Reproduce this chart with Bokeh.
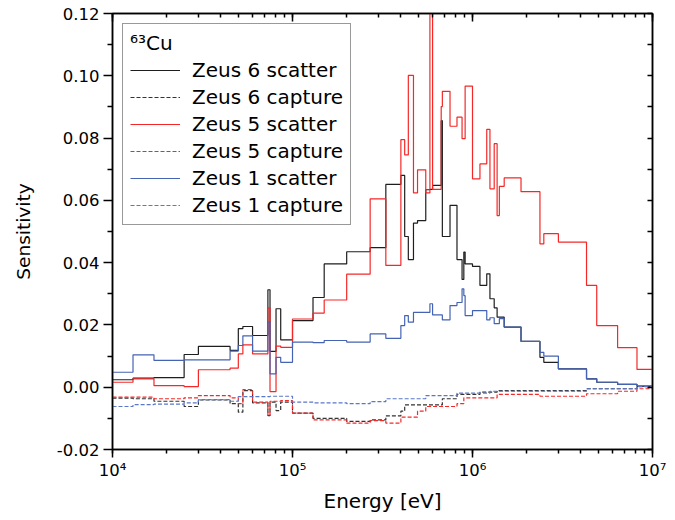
from bokeh.plotting import figure
from bokeh.models import (Range1d, LinearAxis, LogAxis, FixedTicker, LogTicker,
                          PrintfTickFormatter, CustomJSTickFormatter, Legend, LegendItem)
from bokeh.embed import file_html
from bokeh.resources import INLINE

# ---------------- data (bin edges in eV, sensitivities per bin) ----------------
edges = [1e4, 1.3e4, 1.7e4, 2.5e4, 3e4, 4.5e4, 5e4, 5.3e4, 6e4, 7.3e4,
         7.5e4, 8.1e4, 8.6e4, 1e5, 1.3e5, 1.5e5, 2e5, 2.7e5, 3.3e5, 4e5,
         4.2e5, 4.4e5, 4.7e5, 4.95e5, 5.5e5, 5.8e5, 6.0e5, 6.7e5, 6.8e5, 7.5e5,
         8.2e5, 8.75e5, 8.95e5, 9.1e5, 1.0e6, 1.1e6, 1.2e6, 1.25e6, 1.32e6, 1.37e6,
         1.41e6, 1.5e6, 1.86e6, 2.37e6, 2.49e6, 3.0e6, 4.3e6, 4.9e6, 6.4e6, 8.2e6,
         1e7]

zeus6_scatter = [0.0024, 0.0029, 0.0031, 0.0105, 0.0131, 0.0118, 0.0188, 0.0195, 0.0166, 0.0313,
                 0.0115, 0.0252, 0.0152, 0.0214, 0.0288, 0.0396, 0.0435, 0.0448, 0.0651, 0.0680,
                 0.0484, 0.0410, 0.0527, 0.0535, 0.0634, 0.0635, 0.0648, 0.0856, 0.0484, 0.0584,
                 0.0410, 0.0346, 0.0434, 0.0396, 0.0388, 0.0327, 0.0364, 0.0284, 0.0255, 0.0225,
                 0.0225, 0.0193, 0.0147, 0.0096, 0.0080, 0.0059, 0.0027, 0.0016, 0.0009, 0.0003]

zeus6_capture = [-0.0035, -0.0037, -0.0045, -0.0062, -0.0041, -0.0053, -0.0080, -0.0011, -0.0050, -0.0091,
                 -0.0048, -0.0075, -0.0048, -0.0083, -0.0100, -0.0100, -0.0110, -0.0105, -0.0092, -0.0077,
                 -0.0057, -0.0057, -0.0057, -0.0057, -0.0057, -0.0057, -0.0057, -0.0057, -0.0037, -0.0037,
                 -0.0023, -0.0023, -0.0023, -0.0023, -0.0023, -0.0016, -0.0016, -0.0016, -0.0016, -0.0011,
                 -0.0011, -0.0011, -0.0011, -0.0011, -0.0011, -0.0011, -0.0005, -0.0005, -0.0005, 0.0002]

zeus5_scatter = [0.0016, 0.0027, 0.0005, 0.0002, 0.0056, 0.0061, 0.0107, 0.0136, 0.0107, 0.0255,
                 -0.0014, 0.0132, 0.0128, 0.0219, 0.0238, 0.0280, 0.0363, 0.0605, 0.0391, 0.0795,
                 0.0746, 0.1001, 0.0624, 0.0698, 0.0624, 0.1250, 0.0635, 0.0901, 0.0950, 0.0838,
                 0.0867, 0.0798, 0.0798, 0.0967, 0.0669, 0.0717, 0.0828, 0.0637, 0.0782, 0.0551,
                 0.0645, 0.0672, 0.0628, 0.0460, 0.0493, 0.0466, 0.0327, 0.0198, 0.0127, 0.0057]

zeus5_capture = [-0.0032, -0.0032, -0.0037, -0.0034, -0.0027, -0.0034, -0.0053, -0.0008, -0.0048, -0.0091,
                 -0.0045, -0.0045, -0.0043, -0.0083, -0.0105, -0.0105, -0.0115, -0.0107, -0.0115, -0.0096,
                 -0.0096, -0.0096, -0.0096, -0.0077, -0.0062, -0.0062, -0.0062, -0.0062, -0.0062, -0.0062,
                 -0.0053, -0.0053, -0.0034, -0.0034, -0.0034, -0.0034, -0.0034, -0.0034, -0.0034, -0.0023,
                 -0.0023, -0.0023, -0.0023, -0.0029, -0.0029, -0.0029, -0.0021, -0.0021, -0.0013, -0.0005]

zeus1_scatter = [0.0048, 0.0104, 0.0086, 0.0088, 0.0088, 0.0116, 0.0134, 0.0165, 0.0116, 0.0210,
                 0.0043, 0.0096, 0.0080, 0.0145, 0.0143, 0.0150, 0.0145, 0.0171, 0.0157, 0.0198,
                 0.0230, 0.0209, 0.0240, 0.0240, 0.0240, 0.0268, 0.0232, 0.0232, 0.0216, 0.0262,
                 0.0272, 0.0316, 0.0294, 0.0230, 0.0246, 0.0246, 0.0216, 0.0223, 0.0204, 0.0204,
                 0.0220, 0.0193, 0.0147, 0.0112, 0.0100, 0.0059, 0.0027, 0.0016, 0.0009, 0.0004]

zeus1_capture = [-0.0062, -0.0056, -0.0054, -0.0050, -0.0040, -0.0045, -0.0030, -0.0030, -0.0030, -0.0030,
                 -0.0029, -0.0029, -0.0029, -0.0048, -0.0050, -0.0050, -0.0053, -0.0046, -0.0037, -0.0037,
                 -0.0037, -0.0037, -0.0037, -0.0037, -0.0027, -0.0027, -0.0027, -0.0027, -0.0027, -0.0027,
                 -0.0019, -0.0019, -0.0019, -0.0019, -0.0019, -0.0019, -0.0019, -0.0013, -0.0013, -0.0013,
                 -0.0013, -0.0013, -0.0013, -0.0013, -0.0013, -0.0013, -0.0005, -0.0005, -0.0005, 0.0003]

y_major_ticks = [-0.02, 0.0, 0.02, 0.04, 0.06, 0.08, 0.10, 0.12]
y_minor_ticks = [-0.01, 0.01, 0.03, 0.05, 0.07, 0.09, 0.11]

series = [
    ("Zeus 6 scatter", zeus6_scatter, "#1e1e1e", "solid"),
    ("Zeus 6 capture", zeus6_capture, "#333333", "4 2"),
    ("Zeus 5 scatter", zeus5_scatter, "#f52828", "solid"),
    ("Zeus 5 capture", zeus5_capture, "#f52828", "4 2"),
    ("Zeus 1 scatter", zeus1_scatter, "#4463b3", "solid"),
    ("Zeus 1 capture", zeus1_capture, "#5a78c8", "4 2"),
]

FONT = "DejaVu Sans"

p = figure(width=675, height=520, x_axis_type="log",
           x_range=Range1d(1e4, 1e7), y_range=Range1d(-0.02, 0.12),
           output_backend="svg", toolbar_location=None,
           min_border_left=112, min_border_right=23, min_border_top=13, min_border_bottom=71,
           background_fill_color="white", border_fill_color="white")
p.grid.visible = False
p.outline_line_color = "black"
p.outline_line_width = 1.5

sup_code = """
const sup = {"0":"\u2070","1":"\u00b9","2":"\u00b2","3":"\u00b3","4":"\u2074","5":"\u2075",
             "6":"\u2076","7":"\u2077","8":"\u2078","9":"\u2079","-":"\u207b"};
const e = Math.round(Math.log10(tick));
return "10" + String(e).split("").map(c => sup[c]).join("");
"""

# bottom axis
xa = p.xaxis[0]
xa.ticker = LogTicker(num_minor_ticks=10)
xa.formatter = CustomJSTickFormatter(code=sup_code)
xa.major_tick_in = 0
xa.major_tick_out = 8
xa.minor_tick_in = 0
xa.minor_tick_out = 4
xa.axis_line_width = 1.5
xa.major_tick_line_width = 1.5
xa.minor_tick_line_width = 1.5
xa.major_label_text_font = FONT
xa.major_label_text_font_size = "16.5px"
xa.major_label_text_color = "black"
xa.major_label_standoff = 3
xa.axis_label = "Energy [eV]"
xa.axis_label_text_font = FONT
xa.axis_label_text_font_size = "20px"
xa.axis_label_text_font_style = "normal"
xa.axis_label_text_color = "black"
xa.axis_label_standoff = 6

# left axis
ya = p.yaxis[0]
ya.ticker = FixedTicker(ticks=y_major_ticks, minor_ticks=y_minor_ticks)
ya.formatter = PrintfTickFormatter(format="%.2f")
ya.major_tick_in = 0
ya.major_tick_out = 9
ya.minor_tick_in = 0
ya.minor_tick_out = 5
ya.axis_line_width = 1.5
ya.major_tick_line_width = 1.5
ya.minor_tick_line_width = 1.5
ya.major_label_text_font = FONT
ya.major_label_text_font_size = "16.5px"
ya.major_label_text_color = "black"
ya.major_label_standoff = 4
ya.axis_label = "Sensitivity"
ya.axis_label_text_font = FONT
ya.axis_label_text_font_size = "18.5px"
ya.axis_label_text_font_style = "normal"
ya.axis_label_text_color = "black"
ya.axis_label_standoff = 20

# top axis (ticks only, pointing inward)
top = LogAxis(ticker=LogTicker(num_minor_ticks=10),
              formatter=CustomJSTickFormatter(code="return '';"))
top.major_tick_in = 8
top.major_tick_out = 0
top.minor_tick_in = 4
top.minor_tick_out = 0
top.axis_line_width = 1.5
top.major_tick_line_width = 1.5
top.minor_tick_line_width = 1.5
top.major_label_text_font_size = "0px"
top.major_label_standoff = 0
p.add_layout(top, "above")

# right axis (ticks only, pointing inward)
right = LinearAxis(ticker=FixedTicker(ticks=sorted(y_major_ticks + y_minor_ticks), minor_ticks=[]),
                   formatter=CustomJSTickFormatter(code="return '';"))
right.major_tick_in = 5
right.major_tick_out = 0
right.minor_tick_in = 0
right.minor_tick_out = 0
right.axis_line_width = 1.5
right.major_tick_line_width = 1.5
right.major_label_text_font_size = "0px"
right.major_label_standoff = 0
p.add_layout(right, "right")

items = []
for label, vals, color, dash in series:
    r = p.step(x=edges, y=vals + [vals[-1]], mode="after",
               line_color=color, line_width=1.2, line_dash=dash)
    items.append(LegendItem(label=label, renderers=[r]))

legend = Legend(items=items, location="top_left", title="\u2076\u00b3Cu")
legend.margin = 10
legend.padding = 7
legend.spacing = 3
legend.glyph_width = 50
legend.glyph_height = 20
legend.label_height = 20
legend.label_standoff = 12
legend.label_text_font = FONT
legend.label_text_font_size = "20px"
legend.label_text_color = "black"
legend.title_text_font = FONT
legend.title_text_font_size = "20px"
legend.title_text_font_style = "normal"
legend.title_text_color = "black"
legend.title_standoff = 3
legend.border_line_color = "#333333"
legend.border_line_width = 1
legend.background_fill_color = "white"
legend.background_fill_alpha = 1.0
p.add_layout(legend)

open("out.html", "w").write(file_html(p, INLINE))
